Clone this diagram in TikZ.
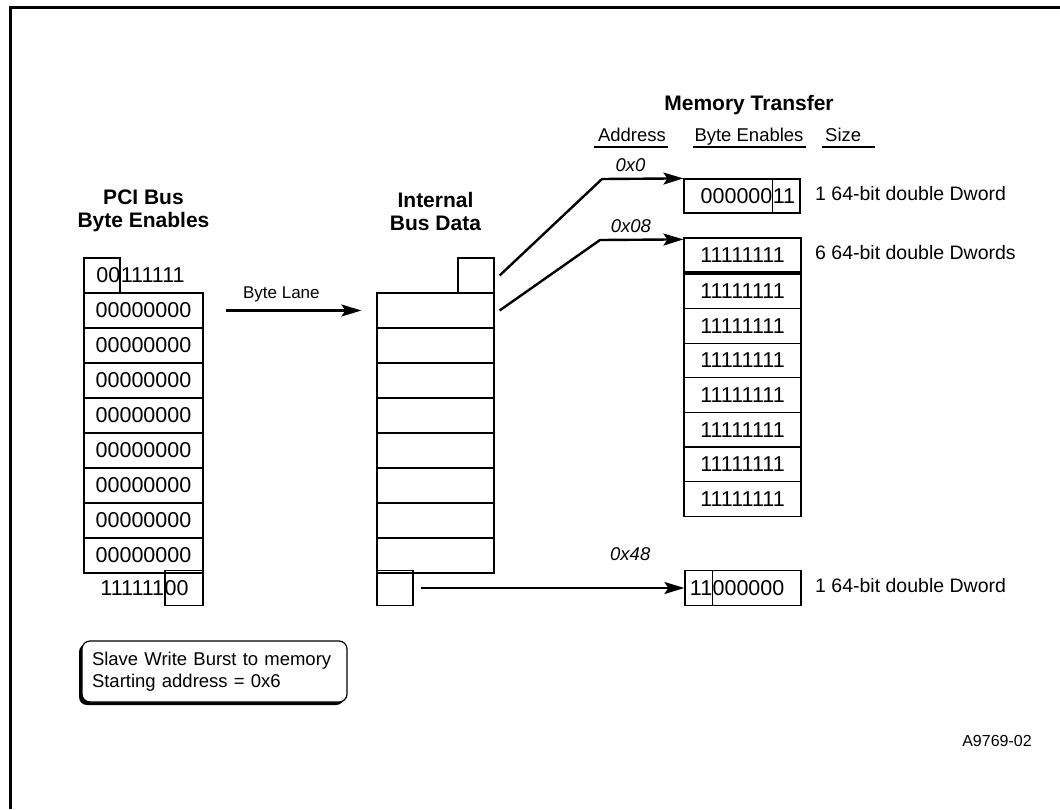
\documentclass[tikz,border=0pt]{standalone}
\usepackage{fontspec}
\setmainfont{Liberation Sans}
\usetikzlibrary{positioning,arrows.meta,shadows}
\newcommand{\bitfont}{\fontsize{21.5}{24}\selectfont}

\begin{document}
\begin{tikzpicture}[x=1pt, y=-1pt,
    cell/.style={rectangle, draw, line width=1.2pt, minimum width=117pt, minimum height=35pt, inner sep=0pt, font=\bitfont},
    stub/.style={rectangle, draw, line width=1.2pt, minimum width=36pt, minimum height=35pt, inner sep=0pt},
    bits/.style={inner sep=0pt, font=\bitfont},
    heading/.style={font=\fontsize{21}{23}\selectfont\bfseries, align=center, inner sep=0pt},
    txt/.style={font=\fontsize{18.5}{22}\selectfont, inner sep=0pt, text height=13.5pt, text depth=4pt},
    sizetxt/.style={txt, font=\fontsize{19.5}{22}\selectfont, anchor=west},
    addr/.style={font=\fontsize{18.5}{22}\selectfont\itshape, inner sep=0pt},
    heavy/.style={line width=2.4pt, -{Stealth[length=20pt, width=12pt, inset=4pt]}},
    divider/.style={line width=1.2pt},
    notebox/.style={rectangle, rounded corners=8pt, draw, line width=1.2pt, fill=white, minimum width=265pt, minimum height=61pt, text width=245pt, inner xsep=10pt, align=left, font=\fontsize{18.5}{22}\selectfont, drop shadow={shadow xshift=-3pt, shadow yshift=-3pt, fill=black, opacity=1}}
]
\useasboundingbox (0,0) rectangle (1060,809);
\draw[line width=2.5pt] (10.5,809) -- (10.5,7.5) -- (1060,7.5);

% PCI bus byte enables
\node[heading] (pcititle) at (143.5,211) {PCI Bus\\Byte Enables};
\node[stub] (pcitop) at (102,275.5) {};
\node[bits, anchor=east] at (pcitop.east) {00};
\node[bits, anchor=west] at (pcitop.east) {111111};
\foreach \i in {1,...,8}
    \node[cell, minimum width=119pt] (pci\i) at (143.5,{293+35*(\i-0.5)}) {00000000};
\node[stub, minimum width=38pt] (pcibot) at (184,588) {};
\node[bits, anchor=east] at (pcibot.west) {111111};
\node[bits, anchor=west] at (pcibot.west) {00};

% internal bus data
\node[heading] (ibdtitle) at (435.5,211) {Internal\\Bus Data};
\node[stub] (ibdtop) at (476,275.5) {};
\foreach \i in {1,...,8}
    \node[cell] (ibd\i) at (435.5,{293+35*(\i-0.5)}) {};
\node[stub] (ibdbot) at (395,588) {};

\draw[heavy, shorten <=22pt, shorten >=15pt] (pci1.east) --
    node[txt, pos=0.45, above=7pt, font=\fontsize{17}{20}\selectfont] {Byte Lane} (ibd1.west);

% memory transfer
\node[heading] (memtitle) at (749,105) {Memory Transfer};
\node[txt] (hdaddr) at (632,137) {Address};
\node[txt] (hdbe) at (749,137) {Byte Enables};
\node[txt, anchor=west] (hdsize) at (825,137) {Size};
\draw[divider] ([xshift=-4pt,yshift=-1pt]hdaddr.south west) -- ([xshift=2pt,yshift=-1pt]hdaddr.south east);
\draw[divider] ([xshift=-1pt,yshift=-1pt]hdbe.south west) -- ([xshift=2pt,yshift=-1pt]hdbe.south east);
\draw[divider] ([xshift=-3pt,yshift=-1pt]hdsize.south west) -- ([xshift=14pt,yshift=-1pt]hdsize.south east);

\node[cell, minimum height=34pt, minimum width=116pt] (mem0) at (742,196) {};
\coordinate (mem0cut) at ([xshift=-28pt]mem0.east);
\draw[divider] (mem0cut |- mem0.north) -- (mem0cut |- mem0.south);
\node[bits, anchor=east] at (mem0cut) {000000};
\node[bits, anchor=west] at (mem0cut) {11};
\node[sizetxt] (size0) at (815,196) {1 64-bit double Dword};

\node[cell, minimum height=34pt] (mem1) at (742.5,255) {11111111};
\foreach \i in {2,...,8}
    \node[cell, minimum height=34.6pt] (mem\i) at (742.5,{274+34.6*(\i-1.5)}) {11111111};
\node[sizetxt] (size1) at (815,255) {6 64-bit double Dwords};

\node[cell, minimum width=116pt] (mem9) at (743,588) {};
\coordinate (mem9cut) at ([xshift=28pt]mem9.west);
\draw[divider] (mem9cut |- mem9.north) -- (mem9cut |- mem9.south);
\node[bits, anchor=east] at (mem9cut) {11};
\node[bits, anchor=west] at (mem9cut) {000000};
\node[sizetxt] (size9) at (815,588) {1 64-bit double Dword};

% transfers
\coordinate (bend0) at (602,179);
\coordinate (bend1) at (600,240);
\draw[heavy] ([xshift=5pt]ibdtop.east) -- (bend0) --
    node[addr, pos=0.35, above=6pt] {0x0} (mem0.north west);
\draw[heavy] ([xshift=5pt]ibd1.east) -- (bend1) --
    node[addr, pos=0.37, above=6pt] {0x08} ([yshift=-2pt]mem1.north west);
\draw[heavy, shorten <=7pt] (ibdbot.east) --
    node[addr, pos=0.8, above=26pt] {0x48} (mem9.west);

% note
\node[notebox] (note) at (214.5,671.5) {Slave Write Burst to memory\\Starting address = 0x6};

\node[txt, font=\fontsize{16}{19}\selectfont] (figid) at (997,742) {A9769-02};
\end{tikzpicture}
\end{document}
